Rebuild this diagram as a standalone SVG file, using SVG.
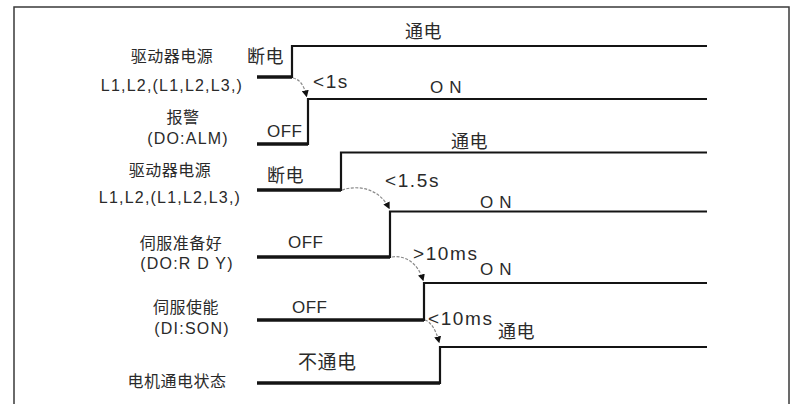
<svg xmlns="http://www.w3.org/2000/svg" width="792" height="404" viewBox="0 0 792 404">
<style>
text{font-family:"Liberation Sans","Noto Sans CJK SC",sans-serif;fill:#2a2a2a}
.lbl{font-size:16px;text-anchor:middle;letter-spacing:0.5px}
.code{font-size:16px;text-anchor:middle;letter-spacing:1.2px}
.st{font-size:17px;letter-spacing:0.5px}
.on{font-size:17px;letter-spacing:6px}
.tm{font-size:19px;letter-spacing:1.6px}
.lo{fill:none;stroke:#141414;stroke-width:3.5}
.hi{fill:none;stroke:#141414;stroke-width:2.2}
.cv{fill:none;stroke:#8a8a8a;stroke-width:1.2;stroke-dasharray:3 1.5}
</style>
<defs>
<marker id="ah" viewBox="0 0 10 10" refX="8" refY="5" markerWidth="7" markerHeight="7" markerUnits="userSpaceOnUse" orient="auto">
<path d="M0,0 L10,5 L0,10 z" fill="#111"/>
</marker>
</defs>
<rect x="14" y="7" width="775" height="420" fill="none" stroke="#3a3a3a" stroke-width="1.5"/>

<g id="row1">
<text class="lbl" x="172" y="62">驱动器电源</text>
<text class="code" x="172" y="91">L1,L2,(L1,L2,L3,)</text>
<text class="st" x="247" y="63" style="font-size:18px">断电</text>
<text class="st" x="405" y="38" style="font-size:18px">通电</text>
<path class="lo" d="M257,77 H292"/>
<path class="hi" d="M292,78 V46 H707"/>
</g>

<g id="row2">
<text class="lbl" x="183" y="123">报警</text>
<text class="code" x="188" y="144">(DO:ALM)</text>
<text class="st" x="267" y="137">OFF</text>
<text class="on" x="430" y="93">ON</text>
<text class="tm" x="313" y="88">&lt;1s</text>
<path class="lo" d="M257,144 H308"/>
<path class="hi" d="M308,145 V99 H707"/>
</g>

<g id="row3">
<text class="lbl" x="170" y="176">驱动器电源</text>
<text class="code" x="170" y="203">L1,L2,(L1,L2,L3,)</text>
<text class="st" x="267" y="182" style="font-size:18px">断电</text>
<text class="st" x="451" y="148" style="font-size:18px">通电</text>
<text class="tm" x="385" y="187">&lt;1.5s</text>
<path class="lo" d="M257,190 H341"/>
<path class="hi" d="M341,191 V152.5 H707"/>
</g>

<g id="row4">
<text class="lbl" x="181" y="249">伺服准备好</text>
<text class="code" x="187" y="269">(DO:R D Y)</text>
<text class="st" x="288" y="248">OFF</text>
<text class="on" x="480" y="208">ON</text>
<text class="tm" x="413" y="260">&gt;10ms</text>
<path class="lo" d="M257,257 H390"/>
<path class="hi" d="M390,258 V211.5 H707"/>
</g>

<g id="row5">
<text class="lbl" x="186" y="313">伺服使能</text>
<text class="code" x="192" y="334">(DI:SON)</text>
<text class="st" x="292" y="313">OFF</text>
<text class="on" x="480" y="275">ON</text>
<text class="tm" x="428" y="325">&lt;10ms</text>
<path class="lo" d="M257,320 H424"/>
<path class="hi" d="M424,321 V283 H707"/>
</g>

<g id="row6">
<text class="lbl" x="177" y="387">电机通电状态</text>
<text class="st" x="298" y="369" style="font-size:19px">不通电</text>
<text class="st" x="498" y="338" style="font-size:18px">通电</text>
<path class="lo" d="M257,383 H440"/>
<path class="hi" d="M440,384 V347 H707"/>
</g>

<g id="connectors">
<path class="cv" d="M293,78 Q303,80 306.5,96" marker-end="url(#ah)"/>
<path class="cv" d="M342,190 C360,184 380,190 389,208" marker-end="url(#ah)"/>
<path class="cv" d="M392,257 C405,255 418,263 423,280" marker-end="url(#ah)"/>
<path class="cv" d="M425,320 C431,322 436,330 439,342" marker-end="url(#ah)"/>
</g>
</svg>
